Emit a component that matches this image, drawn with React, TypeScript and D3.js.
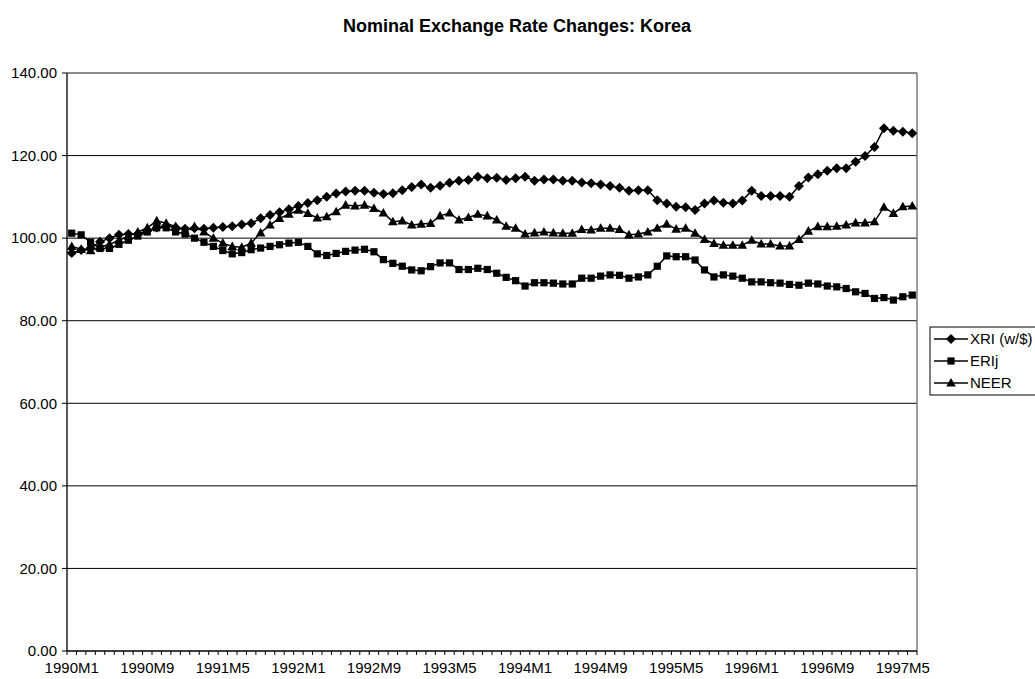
import React from 'react';
import * as d3 from 'd3';

// ---------- data ----------
const years = [1990, 1991, 1992, 1993, 1994, 1995, 1996, 1997];
const lastMonth1997 = 6;
const categories: string[] = [];
years.forEach((y) => {
  const maxM = y === 1997 ? lastMonth1997 : 12;
  for (let m = 1; m <= maxM; m++) categories.push(`${y}M${m}`);
});

const tickLabels = ['1990M1', '1990M9', '1991M5', '1992M1', '1992M9', '1993M5', '1994M1', '1994M9', '1995M5', '1996M1', '1996M9', '1997M5'];
const yTicks = [0, 20, 40, 60, 80, 100, 120, 140];

const xri = [
  96.4, 97.1, 97.6, 99.1, 100.0, 100.8, 101.0, 101.0, 101.8, 102.6,
  103.0, 102.6, 102.3, 102.4, 102.3, 102.5, 102.7, 102.9, 103.3, 103.6,
  104.8, 105.6, 106.3, 107.0, 107.8, 108.5, 109.2, 110.0, 110.8, 111.3,
  111.5, 111.5, 111.0, 110.7, 110.9, 111.6, 112.4, 113.0, 112.2, 112.7,
  113.4, 113.9, 114.1, 114.9, 114.5, 114.6, 114.1, 114.5, 114.9, 113.9,
  114.2, 114.2, 113.9, 113.9, 113.5, 113.3, 113.0, 112.6, 112.2, 111.5,
  111.6, 111.6, 109.2, 108.4, 107.6, 107.5, 106.8, 108.4, 109.1, 108.6,
  108.4, 109.1, 111.5, 110.2, 110.2, 110.2, 110.0, 112.6, 114.7, 115.5,
  116.3, 116.9, 116.9, 118.5, 119.9, 122.1, 126.6, 126.0, 125.8, 125.4,
];

const erij = [
  101.2, 100.8, 99.0, 97.5, 97.5, 98.5, 99.5, 100.5, 101.5, 102.5,
  102.5, 101.5, 101.0, 100.0, 99.0, 98.0, 97.0, 96.2, 96.5, 97.2,
  97.6, 98.0, 98.4, 98.8, 99.0, 98.0, 96.2, 95.8, 96.3, 96.8,
  97.1, 97.3, 96.7, 94.8, 93.9, 93.2, 92.3, 92.1, 93.1, 94.0,
  94.0, 92.4, 92.4, 92.7, 92.4, 91.5, 90.5, 89.7, 88.4, 89.2,
  89.2, 89.1, 88.9, 88.9, 90.3, 90.3, 90.8, 91.1, 91.0, 90.3,
  90.6, 91.1, 93.2, 95.7, 95.5, 95.5, 94.7, 92.3, 90.6, 91.1,
  90.8, 90.3, 89.4, 89.4, 89.2, 89.1, 88.8, 88.6, 89.1, 88.9,
  88.4, 88.2, 87.8, 87.0, 86.6, 85.4, 85.6, 85.0, 85.8, 86.2,
];

const neer = [
  98.0, 97.3, 97.0, 97.8, 98.5, 99.5, 100.5, 101.5, 102.5, 104.2,
  103.6, 102.8, 101.8, 102.8, 101.5, 100.0, 98.8, 98.0, 97.8, 98.8,
  101.3, 103.2, 104.8, 105.8, 106.8, 106.0, 104.9, 105.2, 106.4, 108.0,
  107.8, 108.0, 107.2, 106.1, 104.0, 104.2, 103.2, 103.4, 103.6, 105.4,
  106.1, 104.4, 105.0, 105.8, 105.4, 104.4, 102.9, 102.4, 101.0, 101.3,
  101.5, 101.3, 101.2, 101.2, 102.1, 102.0, 102.4, 102.4, 102.1, 100.8,
  101.0, 101.5, 102.4, 103.4, 102.2, 102.4, 101.2, 99.7, 98.7, 98.3,
  98.3, 98.3, 99.5, 98.6, 98.6, 98.1, 98.1, 99.7, 101.7, 102.8,
  102.8, 102.9, 103.2, 103.7, 103.7, 104.0, 107.5, 106.0, 107.6, 107.8,
];

const seriesNames = ['XRI (w/$)', 'ERIj', 'NEER'];
const seriesValues = [xri, erij, neer];
const seriesMarkers = ['diamond', 'square', 'triangle'];

// ---------- layout ----------
const W = 1035;
const H = 679;
const M = { left: 67, right: 917, top: 73, bottom: 651 };
const FONT = '"Liberation Sans", Arial, sans-serif';

function markerPath(type: string): string {
  if (type === 'diamond') return 'M0,-5L5,0L0,5L-5,0Z';
  if (type === 'square') return 'M-3.6,-3.6H3.6V3.6H-3.6Z';
  return 'M0,-5L4.8,3.6H-4.8Z';
}

export default function App() {
  const x = d3.scaleBand<string>().domain(categories).range([M.left, M.right]).padding(0);
  const y = d3.scaleLinear().domain([0, 140]).range([M.bottom, M.top]);
  const cx = (i: number) => (x(categories[i]) as number) + x.bandwidth() / 2;
  const line = d3
    .line<number>()
    .x((_, i) => cx(i))
    .y((d) => y(d));

  const boundaries = d3.range(categories.length + 1).map((i) => M.left + i * x.bandwidth());

  const legendX = 930;
  const legendY = 327;
  const legendRowH = 22;

  return (
    <svg
      width={W}
      height={H}
      style={{ position: 'absolute', left: 0, top: 0, background: '#fff' }}
      fontFamily={FONT}
    >
      <rect x={0} y={0} width={W} height={H} fill="#fff" />
      <text x={517} y={32} textAnchor="middle" fontWeight="bold" fontSize={18} fill="#000">
        Nominal Exchange Rate Changes: Korea
      </text>

      {/* gridlines */}
      {yTicks
        .filter((t) => t > 0 && t < 140)
        .map((t) => (
          <line key={`g${t}`} x1={M.left} x2={M.right} y1={y(t)} y2={y(t)} stroke="#000" strokeWidth={1} />
        ))}

      {/* plot border */}
      <line x1={M.left} x2={M.right} y1={M.top} y2={M.top} stroke="#666" strokeWidth={1.3} />
      <line x1={M.right} x2={M.right} y1={M.top} y2={M.bottom} stroke="#666" strokeWidth={1.3} />
      <line x1={M.left} x2={M.left} y1={M.top} y2={M.bottom} stroke="#000" strokeWidth={1.3} />
      <line x1={M.left} x2={M.right} y1={M.bottom} y2={M.bottom} stroke="#000" strokeWidth={1.3} />

      {/* y ticks and labels */}
      {yTicks.map((t) => (
        <g key={`y${t}`}>
          <line x1={M.left - 5} x2={M.left} y1={y(t)} y2={y(t)} stroke="#000" />
          <text x={M.left - 10} y={y(t)} dy="0.35em" textAnchor="end" fontSize={15} fill="#000">
            {t.toFixed(2)}
          </text>
        </g>
      ))}

      {/* x ticks */}
      {boundaries.map((bx, i) => (
        <line key={`xt${i}`} x1={bx} x2={bx} y1={M.bottom} y2={M.bottom + 4} stroke="#000" />
      ))}
      {tickLabels.map((lab) => (
        <text key={lab} x={(x(lab) as number) + x.bandwidth() / 2} y={M.bottom + 22} textAnchor="middle" fontSize={15} fill="#000">
          {lab}
        </text>
      ))}

      {/* series */}
      {seriesValues.map((vals, s) => (
        <g key={`s${s}`}>
          <path d={line(vals) || ''} fill="none" stroke="#000" strokeWidth={1.5} />
          {vals.map((v, i) => (
            <path key={i} d={markerPath(seriesMarkers[s])} transform={`translate(${cx(i)},${y(v)})`} fill="#000" />
          ))}
        </g>
      ))}

      {/* legend */}
      <rect x={legendX} y={legendY} width={120} height={legendRowH * 3 + 2} fill="#fff" stroke="#000" strokeWidth={1} />
      {seriesNames.map((name, s) => {
        const ry = legendY + 12 + s * legendRowH;
        return (
          <g key={name}>
            <line x1={legendX + 4} x2={legendX + 38} y1={ry} y2={ry} stroke="#000" strokeWidth={1.5} />
            <path d={markerPath(seriesMarkers[s])} transform={`translate(${legendX + 21},${ry})`} fill="#000" />
            <text x={legendX + 40} y={ry} dy="0.35em" fontSize={15} fill="#000">
              {name}
            </text>
          </g>
        );
      })}
    </svg>
  );
}
